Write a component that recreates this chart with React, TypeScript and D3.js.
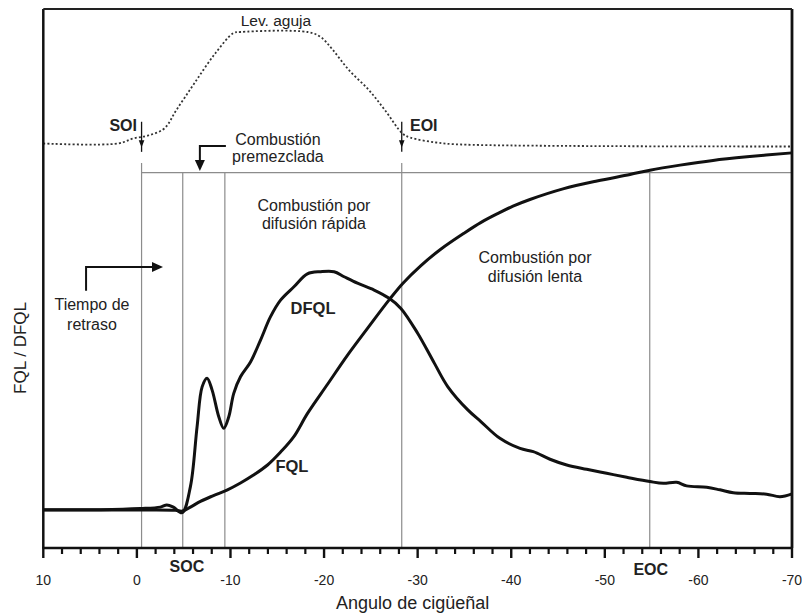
import React from 'react';
import * as d3 from 'd3';

const W = 802;
const H = 614;

// X axis (crank angle)
const xMajorTicks = [10, 0, -10, -20, -30, -40, -50, -60, -70];
const xTickLabels = ['10', '0', '-10', '-20', '-30', '-40', '-50', '-60', '-70'];
const xMinorTicks = [8, 6, 4, 2, -2, -4, -6, -8, -12, -14, -16, -18, -22, -24, -26, -28, -32, -34, -36, -38, -42, -44, -46, -48, -52, -54, -56, -58, -62, -64, -66, -68];

// DFQL (rate of heat release)
const dfqlDeg = [10, 3.9, -0.36, -2.5, -3.2, -3.9, -4.83, -5.72, -6.43, -6.97, -7.5, -8.04, -8.75, -9.28, -9.82, -10.35, -11.07, -12.14, -13.21, -14.28, -15.35, -16.78, -18.22, -19.64, -21.07, -22.14, -23.57, -25.35, -26.96, -28.21, -30.0, -31.78, -33.21, -35.36, -36.78, -38.79, -40.94, -42.36, -44.14, -45.93, -48.06, -50.2, -52.34, -54.82, -56.25, -57.68, -58.74, -60.89, -62.3, -63.73, -65.5, -67.29, -68.72, -70];
const dfqlVal = [0.1, 0.1, 0.4, 0.8, 1.4, 0.8, -0.75, 6.5, 23.1, 34.2, 36.6, 33.3, 25.9, 22.7, 25.9, 32.4, 37.0, 41.1, 47.2, 53.7, 58.3, 62.0, 65.6, 66.2, 66.2, 64.8, 63.0, 61.1, 58.8, 56.0, 49.1, 40.8, 34.3, 27.8, 24.5, 19.9, 17.1, 16.2, 14.1, 12.5, 11.3, 10.2, 9.1, 7.9, 7.4, 7.7, 6.7, 6.3, 5.6, 4.8, 4.6, 4.4, 3.7, 4.5];

// FQL (cumulative heat release)
const fqlDeg = [10, 3.93, -1.43, -4.11, -4.86, -5.72, -6.79, -8.18, -9.68, -11.07, -12.46, -13.96, -15.36, -16.75, -18.25, -20.39, -22.53, -24.68, -26.93, -28.43, -30.35, -32.5, -34.96, -36.78, -38.6, -40.19, -42.0, -45.53, -49.16, -52.69, -54.82, -58.04, -61.56, -65.19, -70];
const fqlVal = [0, 0, 0, -0.1, -0.3, 0.8, 2.4, 4.0, 5.6, 7.5, 9.7, 12.5, 16.1, 20.3, 26.9, 35.0, 43.1, 50.6, 58.3, 63.0, 67.9, 72.5, 76.9, 79.9, 82.4, 84.4, 86.25, 89.2, 91.4, 93.2, 94.4, 95.8, 97.1, 98.1, 99.2];

// Needle lift (Lev. aguja)
const liftDeg = [10, 1.99, 0.39, -1.22, -2.93, -4.22, -6.14, -8.39, -10.32, -11.07, -18.25, -19.64, -20.93, -22.64, -24.78, -26.5, -28.37, -29.18, -31.96, -34.64, -70];
const liftVal = [0, 0, 0.045, 0.072, 0.135, 0.3, 0.54, 0.81, 0.99, 1.0, 1.0, 0.955, 0.84, 0.66, 0.48, 0.3, 0.09, 0.054, 0.009, -0.009, -0.027];

// Event markers (deg)
const SOI = -0.5;
const SOC = -4.9;
const PREMIX_END = -9.4;
const EOI = -28.3;
const EOC = -54.8;
const REGION_TOP = 93.7;
const INJ_TOP = 96.4;

const FONT = '"Liberation Sans", Arial, Helvetica, sans-serif';

export default function App() {
  const x = d3.scaleLinear().domain([10, -70]).range([43.3, 792]);
  const y = d3.scaleLinear().domain([0, 100]).range([510, 150]);
  const yl = d3.scaleLinear().domain([0, 1]).range([143.5, 32]);
  const top = 9;
  const bottom = 548;

  const line = d3.line<[number, number]>().x(d => x(d[0])).y(d => y(d[1])).curve(d3.curveCatmullRom.alpha(0.5));
  const lineL = d3.line<[number, number]>().x(d => x(d[0])).y(d => yl(d[1])).curve(d3.curveCatmullRom.alpha(0.5));

  const dfql = dfqlDeg.map((d, i) => [d, dfqlVal[i]] as [number, number]);
  const fql = fqlDeg.map((d, i) => [d, fqlVal[i]] as [number, number]);
  const lift = liftDeg.map((d, i) => [d, liftVal[i]] as [number, number]);

  const gray = '#8c8c8c';

  const injMarker = (deg: number) => {
    const cx = x(deg);
    return (
      <g key={'m' + deg}>
        <line x1={cx} x2={cx} y1={yl(0.195)} y2={yl(-0.075)} stroke="#111" strokeWidth={1.3} />
        <polygon points={`${cx - 2.8},${yl(0.03)} ${cx + 2.8},${yl(0.03)} ${cx},${yl(-0.035)}`} fill="#111" />
        <line x1={cx} x2={cx} y1={y(INJ_TOP)} y2={bottom} stroke={gray} strokeWidth={1.2} />
      </g>
    );
  };

  // arrows
  const ar1 = { x0: x(5.43), y0: y(60.9), x1: x(5.43), y1: y(67.5), x2: x(-2.79) };
  const ar2 = { x0: x(-9.51), y0: y(101.1), x1: x(-6.73), y2: y(94.2) };

  return (
    <div style={{ position: 'absolute', left: 0, top: 0, width: W, height: H, background: '#fff' }}>
      <svg width={W} height={H} viewBox={`0 0 ${W} ${H}`} style={{ display: 'block', fontFamily: FONT }}>
        <rect x={0} y={0} width={W} height={H} fill="#fff" />

        {/* region lines */}
        <line x1={x(SOI)} x2={x(-70)} y1={y(REGION_TOP)} y2={y(REGION_TOP)} stroke={gray} strokeWidth={1.2} />
        {[SOC, PREMIX_END, EOC].map(d => (
          <line key={'v' + d} x1={x(d)} x2={x(d)} y1={y(REGION_TOP)} y2={bottom} stroke={gray} strokeWidth={1.2} />
        ))}
        {injMarker(SOI)}
        {injMarker(EOI)}

        {/* needle lift */}
        <path d={lineL(lift) || ''} fill="none" stroke="#333" strokeWidth={1.8} strokeDasharray="2 2.2" />

        {/* curves */}
        <path d={line(fql) || ''} fill="none" stroke="#111" strokeWidth={3} strokeLinejoin="round" />
        <path d={line(dfql) || ''} fill="none" stroke="#111" strokeWidth={3} strokeLinejoin="round" />

        {/* frame */}
        <line x1={x(10)} x2={x(10)} y1={top} y2={bottom} stroke="#111" strokeWidth={2.5} />
        <line x1={x(-70)} x2={x(-70)} y1={top} y2={bottom} stroke="#111" strokeWidth={2.8} />
        <line x1={x(10)} x2={x(-70)} y1={top} y2={top} stroke="#222" strokeWidth={2.2} />
        <line x1={x(10) - 1} x2={x(-70) + 1} y1={bottom} y2={bottom} stroke="#111" strokeWidth={2.7} />

        {/* ticks */}
        {xMajorTicks.map((t, i) => (
          <g key={'t' + t}>
            <line x1={x(t)} x2={x(t)} y1={bottom} y2={bottom + 10} stroke="#111" strokeWidth={2.4} />
            <text x={x(t)} y={585} textAnchor="middle" fontSize={14} fill="#222">{xTickLabels[i]}</text>
          </g>
        ))}
        {xMinorTicks.map(t => (
          <line key={'n' + t} x1={x(t)} x2={x(t)} y1={bottom} y2={bottom + 6} stroke="#111" strokeWidth={2.2} />
        ))}

        {/* axis titles */}
        <text x={(x(10) + x(-70)) / 2 - 5} y={609} textAnchor="middle" fontSize={18} fill="#222">Angulo de cigüeñal</text>
        <text transform={`translate(26, ${348}) rotate(-90)`} textAnchor="middle" fontSize={17} fill="#222">FQL / DFQL</text>

        {/* annotations */}
        <text x={x(-14.86)} y={yl(1.054)} textAnchor="middle" fontSize={15.5} fill="#222">Lev. aguja</text>
        <text x={x(-0.01)} y={yl(0.112)} textAnchor="end" fontSize={16} fontWeight="bold" fill="#222">SOI</text>
        <text x={x(-29.18)} y={yl(0.112)} textAnchor="start" fontSize={16} fontWeight="bold" fill="#222">EOI</text>

        <text x={x(-15.07)} y={y(101.4)} textAnchor="middle" fontSize={16} fill="#222">Combustión</text>
        <text x={x(-15.07)} y={y(96.7)} textAnchor="middle" fontSize={16} fill="#222">premezclada</text>

        <text x={x(-18.92)} y={y(83.1)} textAnchor="middle" fontSize={16} fill="#222">Combustión por</text>
        <text x={x(-18.92)} y={y(78.1)} textAnchor="middle" fontSize={16} fill="#222">difusión rápida</text>

        <text x={x(-42.54)} y={y(68.6)} textAnchor="middle" fontSize={16} fill="#222">Combustión por</text>
        <text x={x(-42.54)} y={y(63.3)} textAnchor="middle" fontSize={16} fill="#222">difusión lenta</text>

        <text x={x(4.8)} y={y(55.6)} textAnchor="middle" fontSize={16} fill="#222">Tiempo de</text>
        <text x={x(4.8)} y={y(50)} textAnchor="middle" fontSize={16} fill="#222">retraso</text>

        <text x={x(-18.82)} y={y(54.4)} textAnchor="middle" fontSize={16.5} fontWeight="bold" fill="#222">DFQL</text>
        <text x={x(-16.57)} y={y(10.6)} textAnchor="middle" fontSize={16.5} fontWeight="bold" fill="#222">FQL</text>

        <text x={x(-5.35)} y={572} textAnchor="middle" fontSize={16} fontWeight="bold" fill="#222">SOC</text>
        <text x={x(-54.91)} y={575} textAnchor="middle" fontSize={16} fontWeight="bold" fill="#222">EOC</text>

        {/* arrow: tiempo de retraso */}
        <path d={`M${ar1.x0},${ar1.y0} L${ar1.x1},${ar1.y1} L${ar1.x2 - 9},${ar1.y1}`} fill="none" stroke="#111" strokeWidth={2} />
        <polygon points={`${ar1.x2 - 11},${ar1.y1 - 5} ${ar1.x2},${ar1.y1} ${ar1.x2 - 11},${ar1.y1 + 5}`} fill="#111" />

        {/* arrow: combustion premezclada */}
        <path d={`M${ar2.x0},${ar2.y0} L${ar2.x1},${ar2.y0} L${ar2.x1},${ar2.y2 - 9}`} fill="none" stroke="#111" strokeWidth={2} />
        <polygon points={`${ar2.x1 - 5},${ar2.y2 - 11} ${ar2.x1},${ar2.y2} ${ar2.x1 + 5},${ar2.y2 - 11}`} fill="#111" />
      </svg>
    </div>
  );
}
